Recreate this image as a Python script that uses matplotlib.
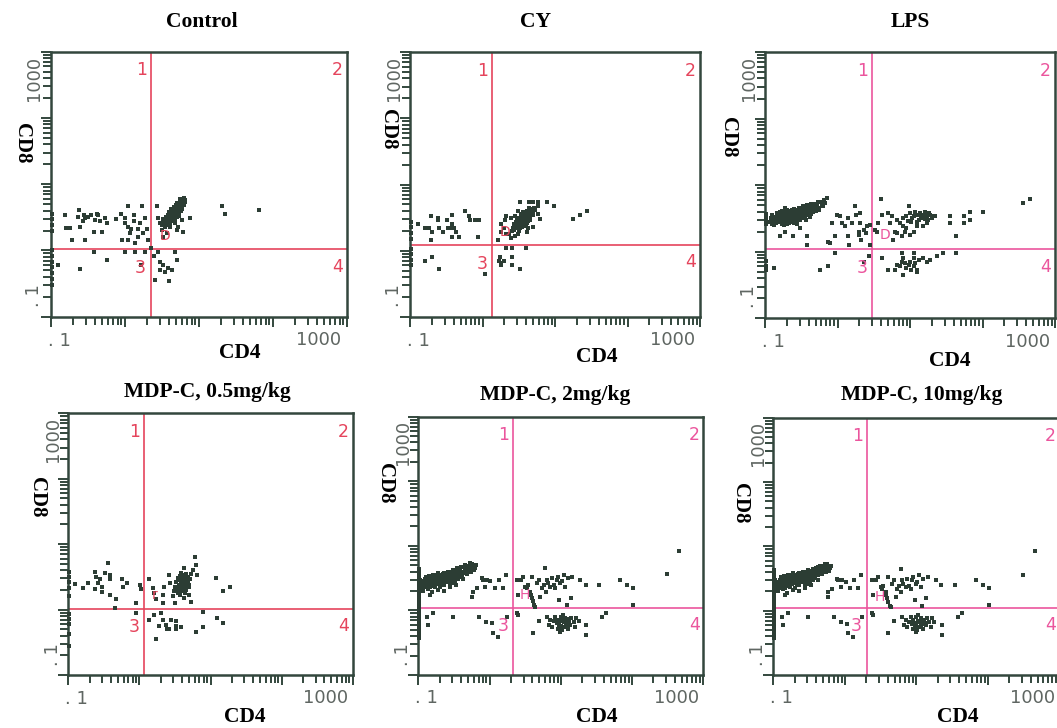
import numpy as np
import matplotlib
matplotlib.use("Agg")
import matplotlib.pyplot as plt

W, H = 1057, 728
DOT = "#2c3d34"
AXIS = "#33473d"
RED = "#e5445c"
PINK = "#eb559d"
SERIF = "Liberation Serif"

titles = ["Control", "CY", "LPS",
          "MDP-C, 0.5mg/kg", "MDP-C, 2mg/kg", "MDP-C, 10mg/kg"]

# quadrant gates, log10 units (CD4, CD8)
gate_cd4 = [1.355, 1.136, 1.48, 1.065, 1.325, 1.306]
gate_cd8 = [1.017, 1.087, 1.036, 1.009, 1.032, 1.037]

# events as (log10 CD4, log10 CD8)
control_events = [
    (0.19, 1.54), (0.20, 1.34), (0.26, 1.34), (0.29, 1.16), (0.38, 1.61), (0.37, 1.50),
    (0.39, 1.36), (0.43, 1.44), (0.45, 1.54), (0.46, 1.49), (0.47, 1.16), (0.51, 1.51),
    (0.55, 1.54), (0.58, 1.28), (0.60, 1.46), (0.62, 1.55), (0.64, 1.54), (0.67, 1.45),
    (0.69, 1.28), (0.73, 1.49), (0.76, 1.41), (0.58, 0.97), (0.76, 0.85), (0.39, 0.72),
    (0.10, 0.78), (0.88, 1.48), (0.95, 1.55), (1.00, 1.49), (1.01, 1.41), (1.04, 1.67),
    (1.05, 1.35), (1.07, 1.26), (1.09, 1.32), (1.12, 1.54), (1.13, 1.45), (1.14, 1.11),
    (1.18, 1.33), (1.18, 1.21), (1.21, 1.41), (1.23, 1.67), (1.25, 1.26), (1.27, 1.49),
    (1.30, 1.33), (1.31, 1.16), (0.96, 1.16), (1.04, 1.16), (1.00, 0.97), (1.14, 0.97),
    (1.27, 0.97), (1.22, 0.78), (1.40, 0.91), (1.45, 0.97), (1.48, 0.83), (1.52, 0.78),
    (1.59, 0.73), (1.64, 0.71), (1.70, 0.85), (1.68, 0.97), (1.41, 0.55), (1.60, 0.54),
    (1.48, 0.71), (1.54, 0.68), (1.36, 1.03), (1.44, 1.67), (1.45, 1.49), (1.48, 1.41),
    (1.50, 1.31), (1.52, 1.21), (1.57, 1.26), (1.61, 1.36), (1.68, 1.41), (1.70, 1.31),
    (1.72, 1.36), (1.77, 1.46), (1.79, 1.28), (1.88, 1.49), (2.31, 1.67), (2.35, 1.55),
    (2.81, 1.61),
    (1.50, 1.38), (1.52, 1.42), (1.54, 1.40), (1.55, 1.45), (1.57, 1.47), (1.58, 1.43),
    (1.59, 1.50), (1.60, 1.46), (1.61, 1.53), (1.62, 1.49), (1.62, 1.56), (1.63, 1.52),
    (1.64, 1.58), (1.64, 1.48), (1.65, 1.55), (1.66, 1.61), (1.66, 1.51), (1.67, 1.57),
    (1.68, 1.63), (1.68, 1.54), (1.69, 1.60), (1.70, 1.66), (1.70, 1.56), (1.71, 1.62),
    (1.72, 1.68), (1.72, 1.58), (1.73, 1.64), (1.74, 1.70), (1.74, 1.61), (1.75, 1.67),
    (1.76, 1.73), (1.77, 1.64), (1.78, 1.70), (1.79, 1.76), (1.80, 1.68), (1.81, 1.73),
    (1.60, 1.58), (1.63, 1.62), (1.67, 1.66), (1.71, 1.71), (1.76, 1.59), (1.73, 1.52),
    (1.58, 1.54), (1.65, 1.45), (1.69, 1.69), (1.75, 1.77), (1.70, 1.50), (1.56, 1.51),
    (1.62, 1.44), (1.78, 1.62),
    (1.52, 1.47), (1.54, 1.36), (1.57, 1.41), (1.59, 1.39), (1.60, 1.52), (1.61, 1.42),
    (1.63, 1.46), (1.63, 1.59), (1.65, 1.50), (1.66, 1.64), (1.67, 1.53), (1.68, 1.47),
    (1.69, 1.57), (1.70, 1.63), (1.71, 1.53), (1.72, 1.64), (1.73, 1.57), (1.74, 1.66),
    (1.75, 1.62), (1.76, 1.69), (1.77, 1.75), (1.78, 1.67), (1.79, 1.72), (1.80, 1.79),
    (1.82, 1.76), (1.66, 1.56), (1.68, 1.59), (1.70, 1.61), (1.64, 1.54), (1.72, 1.62),
]
control_edge = [0.48, 0.57, 0.66, 0.75, 0.83, 0.92, 1.01, 1.29, 1.38, 1.47, 1.55]

cy_events = [
    (0.11, 1.40), (0.21, 1.34), (0.26, 1.34), (0.29, 1.53), (0.30, 1.28), (0.29, 1.16),
    (0.38, 1.49), (0.38, 1.46), (0.40, 1.34), (0.45, 1.28), (0.51, 1.46), (0.52, 1.34),
    (0.55, 1.34), (0.58, 1.54), (0.58, 1.41), (0.61, 1.34), (0.58, 1.21), (0.64, 1.28),
    (0.68, 1.21), (0.76, 1.60), (0.81, 1.53), (0.83, 1.46), (0.89, 1.46), (0.95, 1.46),
    (0.94, 1.21), (0.40, 0.73), (0.30, 0.90), (0.21, 0.85), (1.04, 0.65), (1.24, 0.91),
    (1.23, 0.85), (1.26, 0.81), (1.26, 0.79), (1.30, 0.84), (1.33, 1.04), (1.41, 1.04),
    (1.41, 0.91), (1.41, 0.79), (1.52, 0.73), (1.60, 1.04), (1.21, 1.16), (1.26, 1.29),
    (1.29, 1.34), (1.32, 1.25), (1.36, 1.25), (1.39, 1.19), (1.45, 1.23), (1.49, 1.25),
    (1.50, 1.30), (1.26, 1.41), (1.31, 1.46), (1.33, 1.53), (1.39, 1.50), (1.45, 1.53),
    (1.49, 1.60), (1.52, 1.73), (1.64, 1.73), (1.70, 1.73), (1.77, 1.73), (1.89, 1.73),
    (1.98, 1.67), (1.77, 1.67), (1.79, 1.48), (1.77, 1.55), (1.70, 1.36), (1.63, 1.34),
    (1.61, 1.29), (2.25, 1.48), (2.35, 1.54), (2.44, 1.60),
    (1.40, 1.30), (1.42, 1.34), (1.44, 1.32), (1.45, 1.37), (1.47, 1.39), (1.48, 1.35),
    (1.49, 1.42), (1.50, 1.38), (1.51, 1.45), (1.52, 1.41), (1.53, 1.48), (1.54, 1.44),
    (1.55, 1.51), (1.55, 1.40), (1.56, 1.47), (1.57, 1.53), (1.58, 1.43), (1.59, 1.50),
    (1.60, 1.56), (1.60, 1.46), (1.61, 1.52), (1.62, 1.58), (1.63, 1.49), (1.64, 1.55),
    (1.65, 1.61), (1.66, 1.51), (1.67, 1.57), (1.68, 1.63), (1.69, 1.54), (1.70, 1.60),
    (1.46, 1.43), (1.50, 1.47), (1.53, 1.52), (1.57, 1.56), (1.61, 1.60), (1.58, 1.37),
    (1.62, 1.42), (1.66, 1.46), (1.52, 1.34), (1.48, 1.50), (1.44, 1.40), (1.56, 1.58),
    (1.64, 1.64), (1.71, 1.65), (1.54, 1.36),
    (1.43, 1.36), (1.46, 1.34), (1.47, 1.44), (1.49, 1.37), (1.50, 1.43), (1.51, 1.40),
    (1.52, 1.47), (1.53, 1.44), (1.54, 1.49), (1.55, 1.46), (1.56, 1.43), (1.57, 1.50),
    (1.58, 1.47), (1.59, 1.53), (1.59, 1.45), (1.60, 1.50), (1.61, 1.55), (1.62, 1.48),
    (1.63, 1.53), (1.64, 1.58), (1.65, 1.52), (1.66, 1.56), (1.67, 1.62), (1.68, 1.55),
    (1.69, 1.60), (1.72, 1.62), (1.57, 1.40), (1.60, 1.41), (1.63, 1.45), (1.53, 1.55),
]
cy_edge = [0.78, 0.86, 0.95, 1.02, 1.18, 1.27, 1.36, 1.44]

lps_events = [
    (0.07, 1.45), (0.08, 1.50), (0.10, 1.42), (0.12, 1.52), (0.14, 1.47), (0.16, 1.55),
    (0.18, 1.44), (0.20, 1.50), (0.22, 1.57), (0.24, 1.48), (0.25, 1.53), (0.27, 1.60),
    (0.28, 1.45), (0.30, 1.55), (0.31, 1.50), (0.32, 1.58), (0.34, 1.52), (0.35, 1.47),
    (0.36, 1.56), (0.37, 1.62), (0.38, 1.50), (0.40, 1.54), (0.41, 1.59), (0.42, 1.48),
    (0.43, 1.56), (0.44, 1.52), (0.45, 1.62), (0.46, 1.57), (0.47, 1.50), (0.48, 1.54),
    (0.49, 1.60), (0.50, 1.65), (0.51, 1.55), (0.52, 1.51), (0.53, 1.59), (0.54, 1.63),
    (0.55, 1.57), (0.57, 1.67), (0.58, 1.61), (0.60, 1.70), (0.61, 1.58), (0.63, 1.66),
    (0.65, 1.62), (0.67, 1.72), (0.69, 1.65), (0.71, 1.68), (0.73, 1.75), (0.75, 1.63),
    (0.78, 1.70), (0.82, 1.77), (0.85, 1.80), (0.26, 1.40), (0.33, 1.43), (0.39, 1.45),
    (0.56, 1.48), (0.44, 1.42), (0.29, 1.57), (0.36, 1.60), (0.48, 1.47), (0.62, 1.52),
    (0.09, 1.55), (0.11, 1.47), (0.13, 1.40), (0.15, 1.50), (0.17, 1.58), (0.19, 1.47),
    (0.21, 1.53), (0.23, 1.42), (0.23, 1.61), (0.26, 1.50), (0.27, 1.55), (0.29, 1.47),
    (0.30, 1.62), (0.31, 1.42), (0.33, 1.55), (0.34, 1.61), (0.35, 1.50), (0.36, 1.53),
    (0.37, 1.45), (0.38, 1.58), (0.39, 1.52), (0.40, 1.64), (0.41, 1.49), (0.42, 1.55),
    (0.43, 1.61), (0.44, 1.46), (0.45, 1.54), (0.46, 1.51), (0.47, 1.66), (0.48, 1.58),
    (0.49, 1.52), (0.50, 1.56), (0.51, 1.62), (0.52, 1.68), (0.53, 1.53), (0.54, 1.57),
    (0.55, 1.50), (0.56, 1.64), (0.57, 1.55), (0.58, 1.70), (0.59, 1.58), (0.60, 1.63),
    (0.62, 1.68), (0.63, 1.56), (0.64, 1.72), (0.66, 1.60), (0.68, 1.69), (0.70, 1.61),
    (0.72, 1.72), (0.74, 1.66), (0.77, 1.74), (0.80, 1.68), (0.83, 1.73), (0.20, 1.60),
    (0.15, 1.43), (0.28, 1.65), (0.40, 1.43),
    (0.21, 1.23), (0.28, 1.30), (0.39, 1.23), (0.48, 1.35), (0.58, 1.23), (0.58, 1.10),
    (0.76, 0.73), (0.87, 0.78), (0.87, 1.15), (0.90, 1.13), (0.97, 1.23), (0.97, 0.98),
    (0.92, 1.43), (0.99, 1.55), (1.03, 1.53), (1.06, 1.43), (1.10, 1.38), (1.15, 1.23),
    (1.15, 1.50), (1.16, 1.10), (1.20, 1.43), (1.24, 1.68), (1.26, 1.55), (1.31, 1.58),
    (1.31, 1.43), (1.29, 1.30), (1.30, 1.25), (1.33, 1.18), (1.36, 1.33), (1.39, 1.28),
    (1.40, 1.38), (1.45, 1.40), (1.45, 1.10), (1.43, 0.93), (1.36, 0.85), (1.52, 1.33),
    (1.54, 1.30), (1.56, 1.43), (1.60, 1.79), (1.61, 1.55), (1.70, 1.58), (1.72, 1.43),
    (1.75, 1.53), (1.77, 1.18), (1.79, 1.30), (0.12, 0.75),
    (1.82, 1.48), (1.86, 1.43), (1.91, 1.50), (1.95, 1.53), (1.98, 1.68), (2.00, 1.58),
    (2.02, 1.45), (2.05, 1.53), (2.07, 1.60), (2.09, 1.55), (2.12, 1.48), (2.14, 1.58),
    (2.16, 1.50), (2.18, 1.55), (2.21, 1.60), (2.23, 1.53), (2.25, 1.48), (2.28, 1.55),
    (2.30, 1.50), (2.32, 1.53), (2.35, 1.54), (1.91, 1.38), (1.93, 1.30), (1.95, 1.35),
    (2.00, 1.25), (2.05, 1.30), (2.09, 1.38), (2.18, 1.38), (2.23, 1.43), (1.89, 1.23),
    (1.82, 1.28), (2.55, 1.54), (2.55, 1.43), (2.74, 1.54), (2.74, 1.43), (2.83, 1.60),
    (2.83, 1.48), (3.01, 1.60), (2.64, 1.23), (3.56, 1.73), (3.66, 1.79),
    (2.03, 1.50), (2.10, 1.45), (2.15, 1.54), (2.20, 1.49), (2.26, 1.58), (1.97, 1.46),
    (1.61, 0.90), (1.82, 0.80), (1.86, 0.78), (1.89, 0.85), (1.91, 0.90), (1.93, 0.83),
    (1.95, 0.75), (1.98, 0.80), (2.00, 0.85), (2.02, 0.73), (2.05, 0.78), (2.07, 0.83),
    (2.09, 0.73), (2.12, 0.88), (2.18, 0.90), (2.23, 0.85), (2.28, 0.88), (2.37, 0.93),
    (2.45, 0.98), (2.64, 0.98), (1.91, 0.65), (2.09, 0.70), (2.05, 0.90), (1.79, 0.73),
    (1.70, 0.73), (1.89, 0.98), (2.05, 0.98),
]
lps_edge = [0.72, 0.79, 0.86, 1.41, 1.46, 1.52, 1.57]

mdp05_events = [
    (0.09, 1.39), (0.20, 1.33), (0.28, 1.40), (0.38, 1.58), (0.39, 1.50), (0.38, 1.31),
    (0.42, 1.40), (0.44, 1.46), (0.47, 1.35), (0.48, 1.27), (0.52, 1.56), (0.56, 1.71),
    (0.58, 1.53), (0.59, 1.46), (0.58, 1.22), (0.67, 1.16), (0.66, 1.02), (0.75, 1.46),
    (0.77, 1.34), (0.82, 1.40), (0.95, 1.10), (0.95, 0.95), (1.01, 1.38), (1.02, 1.31),
    (1.14, 1.46), (1.19, 1.33), (1.21, 1.26), (1.23, 1.16), (1.14, 0.84), (1.20, 0.92),
    (1.23, 0.55), (1.27, 0.75), (1.31, 0.95), (1.33, 0.84), (1.34, 1.34), (1.33, 1.22),
    (1.33, 1.10), (1.37, 0.77), (1.39, 0.71), (1.42, 0.70), (1.43, 1.40), (1.42, 1.53),
    (1.45, 0.84), (1.47, 1.20), (1.48, 1.29), (1.50, 1.10), (1.51, 0.82), (1.52, 0.75),
    (1.52, 0.70), (1.59, 0.74), (1.63, 1.17), (1.63, 1.63), (1.64, 1.53), (1.70, 1.35),
    (1.70, 1.22), (1.72, 1.12), (1.76, 1.61), (1.78, 1.80), (1.80, 1.68), (1.81, 1.53),
    (1.80, 0.66), (1.89, 0.97), (1.90, 0.73), (2.08, 1.48), (2.09, 0.87), (2.17, 1.29),
    (2.18, 0.80), (2.28, 1.35),
    (1.50, 1.35), (1.52, 1.42), (1.53, 1.30), (1.54, 1.48), (1.55, 1.38), (1.56, 1.25),
    (1.56, 1.45), (1.57, 1.52), (1.58, 1.40), (1.58, 1.33), (1.59, 1.47), (1.60, 1.43),
    (1.60, 1.37), (1.61, 1.50), (1.61, 1.28), (1.62, 1.45), (1.62, 1.40), (1.63, 1.35),
    (1.63, 1.48), (1.64, 1.42), (1.65, 1.38), (1.65, 1.55), (1.66, 1.45), (1.66, 1.30),
    (1.67, 1.41), (1.68, 1.50), (1.69, 1.44), (1.70, 1.38), (1.71, 1.47), (1.72, 1.55),
    (1.57, 1.23), (1.59, 1.56), (1.54, 1.26), (1.61, 1.33), (1.64, 1.25), (1.68, 1.34),
    (1.58, 1.46), (1.62, 1.52), (1.55, 1.32), (1.67, 1.47), (1.59, 1.41), (1.60, 1.46),
    (1.61, 1.39), (1.62, 1.48), (1.63, 1.42), (1.64, 1.46), (1.60, 1.35), (1.65, 1.50),
    (1.58, 1.49), (1.62, 1.36),
]
mdp05_edge = [0.45, 0.62, 0.78, 0.86, 0.93, 1.21, 1.33, 1.42, 1.50, 1.58]

mdp2_events = [
    (0.03, 1.30), (0.04, 1.38), (0.05, 1.45), (0.06, 1.34), (0.08, 1.41), (0.09, 1.48),
    (0.10, 1.37), (0.12, 1.44), (0.13, 1.50), (0.14, 1.33), (0.16, 1.40), (0.17, 1.47),
    (0.18, 1.53), (0.20, 1.43), (0.21, 1.38), (0.22, 1.50), (0.24, 1.45), (0.25, 1.55),
    (0.26, 1.41), (0.28, 1.48), (0.29, 1.52), (0.30, 1.36), (0.31, 1.44), (0.33, 1.50),
    (0.34, 1.57), (0.35, 1.46), (0.36, 1.40), (0.37, 1.53), (0.38, 1.49), (0.40, 1.56),
    (0.41, 1.44), (0.42, 1.51), (0.43, 1.60), (0.45, 1.47), (0.46, 1.54), (0.47, 1.42),
    (0.48, 1.58), (0.50, 1.50), (0.51, 1.62), (0.52, 1.45), (0.54, 1.55), (0.55, 1.65),
    (0.57, 1.51), (0.58, 1.59), (0.60, 1.67), (0.62, 1.55), (0.63, 1.48), (0.65, 1.63),
    (0.66, 1.70), (0.68, 1.57), (0.70, 1.66), (0.72, 1.73), (0.74, 1.60), (0.76, 1.68),
    (0.78, 1.62), (0.81, 1.70), (0.27, 1.32), (0.36, 1.30), (0.44, 1.36), (0.19, 1.28),
    (0.53, 1.40),
    (0.02, 1.40), (0.03, 1.47), (0.05, 1.38), (0.07, 1.44), (0.07, 1.30), (0.09, 1.36),
    (0.11, 1.42), (0.11, 1.52), (0.13, 1.38), (0.15, 1.45), (0.15, 1.54), (0.17, 1.36),
    (0.19, 1.49), (0.20, 1.55), (0.22, 1.42), (0.23, 1.47), (0.24, 1.37), (0.25, 1.50),
    (0.27, 1.45), (0.27, 1.58), (0.29, 1.43), (0.30, 1.50), (0.32, 1.47), (0.32, 1.55),
    (0.33, 1.42), (0.35, 1.52), (0.36, 1.58), (0.38, 1.45), (0.39, 1.53), (0.40, 1.48),
    (0.41, 1.60), (0.43, 1.50), (0.44, 1.55), (0.45, 1.42), (0.47, 1.51), (0.48, 1.63),
    (0.49, 1.56), (0.50, 1.46), (0.52, 1.58), (0.53, 1.52), (0.55, 1.60), (0.56, 1.48),
    (0.58, 1.64), (0.59, 1.54), (0.61, 1.60), (0.62, 1.68), (0.64, 1.58), (0.67, 1.64),
    (0.69, 1.60), (0.71, 1.69), (0.73, 1.63), (0.75, 1.72), (0.79, 1.66),
    (0.16, 1.24), (0.20, 0.96), (0.12, 0.90), (0.14, 0.77), (0.48, 0.90), (0.76, 1.21),
    (0.77, 1.29), (0.82, 1.34), (0.85, 0.90), (0.89, 1.50), (0.91, 1.47), (0.94, 1.37),
    (0.95, 0.82), (0.96, 1.47), (1.01, 1.45), (1.03, 0.80), (1.05, 0.65), (1.07, 1.35),
    (1.13, 1.47), (1.12, 0.59), (1.19, 1.35), (1.23, 1.55), (1.24, 0.90), (1.38, 0.96),
    (1.40, 0.93), (1.38, 1.47), (1.40, 1.24), (1.44, 1.47), (1.47, 1.52), (1.50, 1.37),
    (1.52, 1.34), (1.54, 1.39), (1.57, 1.29), (1.58, 1.24), (1.59, 1.19), (1.60, 1.52),
    (1.61, 1.14), (1.63, 1.08), (1.64, 1.06), (1.61, 0.65), (1.66, 1.42), (1.69, 1.47),
    (1.71, 1.21), (1.73, 1.34), (1.76, 1.39), (1.78, 1.65), (1.79, 1.29), (1.80, 1.47),
    (1.82, 1.42), (1.85, 1.37), (1.87, 1.50), (1.90, 1.39), (1.92, 1.34), (1.94, 1.47),
    (1.96, 1.52), (1.98, 1.16), (1.99, 1.42), (2.01, 1.45), (2.04, 1.55), (2.06, 1.37),
    (2.08, 1.08), (2.10, 1.50), (2.14, 1.19), (2.16, 1.52), (2.27, 1.47), (2.35, 1.40),
    (2.54, 1.40), (2.58, 0.90), (2.64, 0.96), (2.83, 1.47), (2.93, 1.40), (3.02, 1.35),
    (3.02, 1.09), (3.49, 1.56), (3.66, 1.92), (1.69, 0.84),
    (1.80, 0.90), (1.83, 0.78), (1.85, 0.85), (1.87, 0.75), (1.90, 0.83), (1.92, 0.90),
    (1.94, 0.80), (1.96, 0.72), (1.96, 0.85), (1.98, 0.77), (2.00, 0.90), (2.01, 0.70),
    (2.04, 0.82), (2.05, 0.75), (2.06, 0.88), (2.08, 0.80), (2.10, 0.72), (2.11, 0.85),
    (2.13, 0.78), (2.15, 0.89), (2.18, 0.82), (2.20, 0.75), (2.22, 0.88), (2.25, 0.83),
    (2.36, 0.78), (2.36, 0.62), (1.99, 0.67), (2.03, 0.93), (1.97, 0.81), (2.02, 0.84),
    (2.07, 0.78), (2.12, 0.81), (2.00, 0.76), (2.09, 0.86),
]
mdp2_edge = [0.58, 0.63, 0.69, 0.74, 0.81, 0.86, 0.92, 0.97, 1.03, 1.08,
             1.14, 1.19, 1.26, 1.31, 1.37, 1.42, 1.48, 1.53, 1.59, 1.64]

# the 10 mg/kg plot shows the same dot pattern as the 2 mg/kg one
mdp10_events = mdp2_events
mdp10_edge = mdp2_edge

# region marker glyphs drawn by the cytometer software
marker_text = ["D", "D", "D", "r", "H", "H"]
marker_cd4 = [1.55, 1.31, 1.66, 1.22, 1.50, 1.49]
marker_cd8 = [1.22, 1.28, 1.25, 1.22, 1.24, 1.22]

# ---- layout (pixels in the 1057x728 figure) ----
boxes = [  # left, right, top, bottom
    (50.7, 346.7, 51.7, 316.7),
    (410.0, 700.0, 52.0, 317.0),
    (765.0, 1055.0, 52.0, 318.3),
    (68.3, 352.7, 413.3, 675.0),
    (418.3, 703.3, 416.7, 675.0),
    (773.3, 1059.3, 417.7, 675.0),
]
title_pos = [(202, 22), (536, 22), (910, 22), (207, 392), (555, 395), (922, 395)]
cd4_pos = [(240, 353), (597, 357), (950, 361), (245, 717), (597, 717), (958, 717)]
cd8_pos = [(22, 143), (388, 129), (728, 137), (37, 497), (385, 483), (740, 503)]
line_colors = [RED, RED, PINK, RED, PINK, PINK]

all_events = [control_events, cy_events, lps_events, mdp05_events, mdp2_events, mdp10_events]
all_edges = [control_edge, cy_edge, lps_edge, mdp05_edge, mdp2_edge, mdp10_edge]


def fx(x):
    return x / W


def fy(y):
    return 1 - y / H


fig = plt.figure(figsize=(W / 100, H / 100), dpi=100)

for i in range(6):
    l, r, t, b = boxes[i]
    ax = fig.add_axes([fx(l), fy(b), (r - l) / W, (b - t) / H])
    ax.set_xscale("log")
    ax.set_yscale("log")
    ax.set_xlim(1, 1e4)
    ax.set_ylim(1, 1e4)

    ev = np.array(all_events[i])
    ax.scatter(10 ** ev[:, 0], 10 ** ev[:, 1], s=6.5, marker="s", c=DOT,
               linewidths=0, zorder=3)
    edge = np.array(all_edges[i])
    ax.scatter(np.full(len(edge), 10 ** 0.012), 10 ** edge, s=8, marker="s",
               c=DOT, linewidths=0, zorder=3, clip_on=False)

    col = line_colors[i]
    gx, gy = gate_cd4[i], gate_cd8[i]
    ax.axvline(10 ** gx, color=col, lw=1.2, zorder=2)
    ax.axhline(10 ** gy, color=col, lw=1.2, zorder=2)

    qx, qy = gx / 4, gy / 4
    qkw = dict(transform=ax.transAxes, color=col, fontsize=12.5,
               family="DejaVu Sans", ha="center", va="center")
    ax.text(qx - 0.033, 0.93, "1", **qkw)
    ax.text(0.968, 0.93, "2", **qkw)
    ax.text(qx - 0.035, qy - 0.07, "3", **qkw)
    ax.text(0.968, qy - 0.065, "4", **qkw)
    ax.text(10 ** marker_cd4[i], 10 ** marker_cd8[i], marker_text[i], color=col,
            fontsize=10, ha="center", va="center", zorder=4)

    for s in ax.spines.values():
        s.set_color(AXIS)
        s.set_linewidth(1.8)
    ax.tick_params(which="both", direction="out", color=AXIS, width=1.4,
                   labelbottom=False, labelleft=False)
    ax.tick_params(which="major", length=7)
    ax.tick_params(which="minor", length=5.5)

    tkw = dict(transform=ax.transAxes, color="#5f6662", fontsize=13,
               family="DejaVu Sans", ha="center", va="center")
    ax.text(0.03, -0.09, ". 1", **tkw)
    ax.text(0.905, -0.088, "1000", **tkw)
    ax.text(-0.055, 0.08, ". 1", rotation=90, **tkw)
    ax.text(-0.055, 0.90, "1000", rotation=90, **tkw)

    fig.text(fx(title_pos[i][0]), fy(title_pos[i][1]), titles[i], family=SERIF,
             fontweight="bold", fontsize=15.5, ha="center", va="center")
    fig.text(fx(cd4_pos[i][0]), fy(cd4_pos[i][1]), "CD4", family=SERIF,
             fontweight="bold", fontsize=15.5, ha="center", va="center")
    fig.text(fx(cd8_pos[i][0]), fy(cd8_pos[i][1]), "CD8", family=SERIF,
             fontweight="bold", fontsize=15, ha="center", va="center", rotation=-90)

fig.savefig("out.png", dpi=100)
